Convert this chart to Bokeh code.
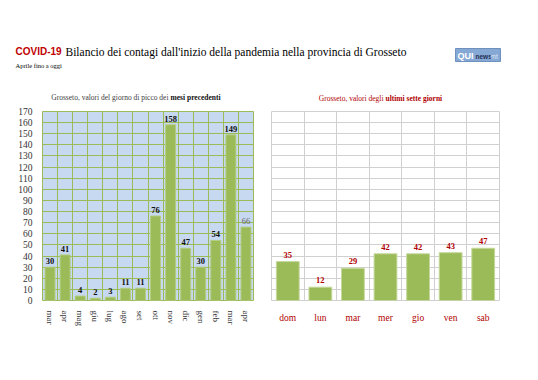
import math
from bokeh.plotting import figure
from bokeh.layouts import column, row
from bokeh.models import Range1d, FixedTicker, ColumnDataSource
from bokeh.core.properties import value
from bokeh.embed import file_html
from bokeh.resources import INLINE

# ---- data ----
months = ["mar", "apr", "mag", "giu", "lug", "ago", "set", "ott", "nov", "dic", "gen", "feb", "mar", "apr"]
month_values = [30, 41, 4, 2, 3, 11, 11, 76, 158, 47, 30, 54, 149, 66]
days = ["dom", "lun", "mar", "mer", "gio", "ven", "sab"]
day_values = [35, 12, 29, 42, 42, 43, 47]
y_ticks = list(range(0, 171, 10))

SERIF = "Liberation Serif"
SANS = "Liberation Sans"
GREEN = "#9bbb59"
DARKRED = "#b00000"

# ---- header (titles) ----
HW, HH = 530, 104
header = figure(width=HW, height=HH, x_range=Range1d(0, HW), y_range=Range1d(HH, 0),
                output_backend="svg", toolbar_location=None, min_border=0,
                x_axis_location=None, y_axis_location=None)
header.grid.visible = False
header.outline_line_color = None


def txt(x, y, s, size, color="#000000", font=SERIF, style="normal", align="left"):
    header.text(x=[x], y=[y], text=[s], text_font=value(font), text_font_style=style,
                text_font_size=size, text_color=color, text_baseline="middle", text_align=align)


txt(15, 51, "COVID-19", "10px", "#c00000", SANS, "bold")
txt(65, 51, "Bilancio dei contagi dall'inizio della pandemia nella provincia di Grosseto", "11.5px")
txt(15, 65, "Aprile fino a oggi", "6.5px")
# logo
header.quad(left=[455], right=[500], top=[48], bottom=[61], fill_color="#86a8d4", line_color="#6f8fbd")
txt(457, 55, "QUI", "9px", "#ffffff", SANS, "bold")
txt(475, 55.5, "news", "6.5px", "#1f2f55", SANS, "bold")
txt(490, 55.5, "mt", "6.5px", "#dfe8f5", SANS)
# chart titles
txt(168, 97, "Grosseto, valori del giorno di picco dei", "7.5px", "#404040", align="right")
txt(170, 97, "mesi precedenti", "7.5px", "#111111", style="bold")
txt(383, 98, "Grosseto, valori degli", "7.5px", DARKRED, align="right")
txt(385, 98, "ultimi sette giorni", "7.5px", DARKRED, style="bold")


def style_common(p):
    p.xaxis.axis_line_color = None
    p.xaxis.major_tick_line_color = None
    p.xaxis.minor_tick_line_color = None
    p.yaxis.axis_line_color = None
    p.yaxis.major_tick_line_color = None
    p.yaxis.minor_tick_line_color = None


# ---- left chart ----
mx = list(range(len(months)))
n = len(months)
lab_color = ["#111111"] * (n - 1) + ["#666666"]   # last (current) month label is lighter
lab_style = ["bold"] * (n - 1) + ["normal"]
left_src = ColumnDataSource(dict(x=mx, top=month_values, lab=[str(v) for v in month_values],
                                 col=lab_color, sty=lab_style))
left = figure(width=270, height=268, x_range=Range1d(-0.5, n - 0.5), y_range=Range1d(0, 170),
              output_backend="svg", toolbar_location=None,
              min_border_left=42, min_border_right=17, min_border_top=7, min_border_bottom=72)
style_common(left)
left.background_fill_color = "#c6d9f1"
left.outline_line_color = GREEN
left.vbar(x="x", top="top", width=0.66, source=left_src, fill_color=GREEN, line_color="#b5cc80")
left.text(x="x", y="top", text="lab", source=left_src, y_offset=-3, text_align="center",
          text_baseline="bottom", text_font=value(SERIF), text_font_style="sty",
          text_font_size="8.5px", text_color="col")
left.xaxis.ticker = FixedTicker(ticks=mx)
left.xaxis.major_label_overrides = {i: m for i, m in enumerate(months)}
left.xaxis.major_label_orientation = -math.pi / 2
left.xaxis.major_label_text_font = SERIF
left.xaxis.major_label_text_font_size = "9px"
left.xaxis.major_label_text_color = "#333333"
left.xaxis.major_label_standoff = 4
left.yaxis.ticker = FixedTicker(ticks=y_ticks)
left.yaxis.major_label_text_font = SERIF
left.yaxis.major_label_text_font_size = "9.5px"
left.yaxis.major_label_text_color = "#333333"
left.yaxis.major_label_standoff = 4
left.xgrid.ticker = FixedTicker(ticks=[i - 0.5 for i in range(n + 1)])
left.ygrid.ticker = FixedTicker(ticks=y_ticks)
left.grid.grid_line_color = GREEN
left.grid.grid_line_width = 1

# ---- right chart ----
dx = list(range(len(days)))
right_src = ColumnDataSource(dict(x=dx, top=day_values, lab=[str(v) for v in day_values]))
right = figure(width=260, height=268, x_range=Range1d(-0.5, len(days) - 0.5), y_range=Range1d(0, 170),
               output_backend="svg", toolbar_location=None,
               min_border_left=1, min_border_right=31, min_border_top=6, min_border_bottom=66)
style_common(right)
right.yaxis.visible = False
right.outline_line_color = "#d0d0d0"
right.vbar(x="x", top="top", width=0.7, source=right_src, fill_color=GREEN, line_color="#c5d89a")
right.text(x="x", y="top", text="lab", source=right_src, y_offset=-4, text_align="center",
           text_baseline="bottom", text_font=value(SERIF), text_font_style="bold",
           text_font_size="8.5px", text_color=DARKRED)
right.xaxis.ticker = FixedTicker(ticks=dx)
right.xaxis.major_label_overrides = {i: d for i, d in enumerate(days)}
right.xaxis.major_label_text_font = SERIF
right.xaxis.major_label_text_font_size = "9.5px"
right.xaxis.major_label_text_color = DARKRED
right.xaxis.major_label_standoff = 6
right.xgrid.ticker = FixedTicker(ticks=[i - 0.5 for i in range(len(days) + 1)])
right.ygrid.ticker = FixedTicker(ticks=y_ticks)
right.grid.grid_line_color = "#d0d0d0"

layout = column(header, row(left, right))
open("out.html", "w").write(file_html(layout, INLINE))
